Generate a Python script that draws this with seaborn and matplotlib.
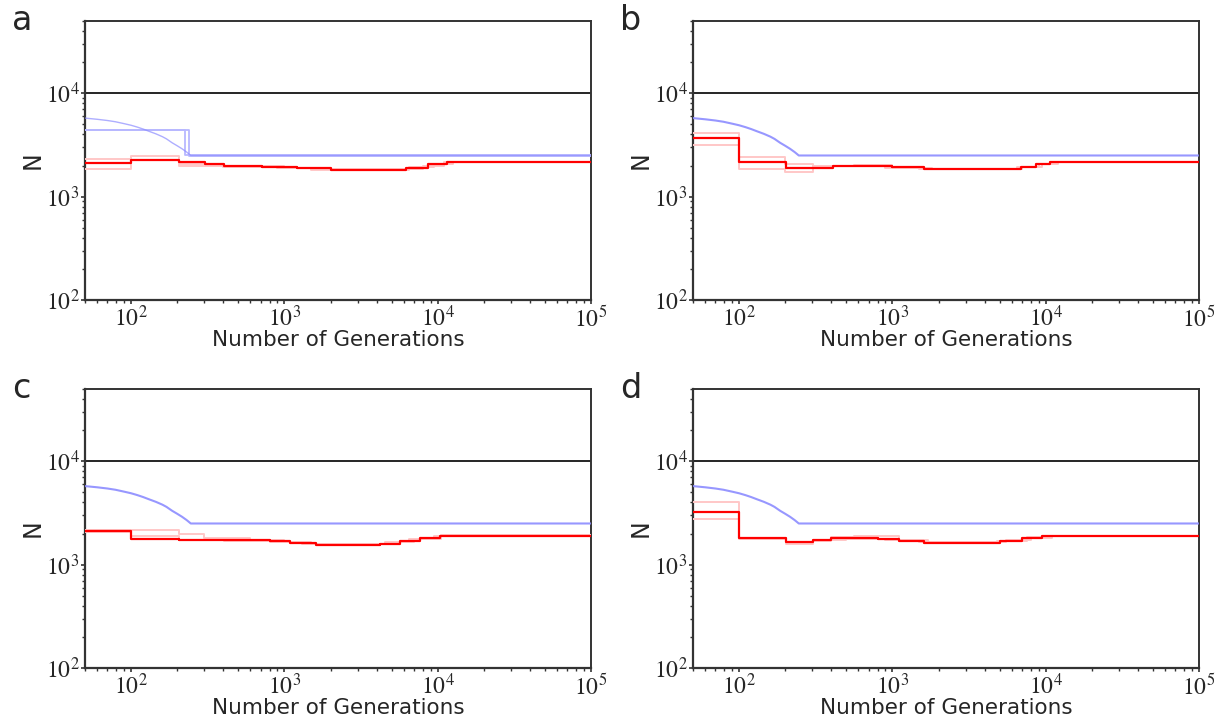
import numpy as np
import pandas as pd
import matplotlib
matplotlib.use("Agg")
import matplotlib.pyplot as plt
import seaborn as sns
from matplotlib.ticker import LogLocator, NullFormatter

# ---------------- data ----------------
panel_labels = ["a", "b", "c", "d"]
x_label = "Number of Generations"
y_label = "N"
ref_N = 10000
x_lim = (50, 1e5)
y_lim = (100, 5e4)

# true (simulated) history - blue curve
true_t = [50, 60, 70, 79, 90, 100, 110, 120, 130, 145, 160, 170, 185, 200, 215, 230, 245, 1e5]
true_N = [5750, 5600, 5450, 5300, 5080, 4900, 4700, 4500, 4300, 4050, 3800, 3620,
          3320, 3100, 2900, 2700, 2500, 2500]

# panel a: blue step estimates
a_blue1_t = [50, 225, 1e5]
a_blue1_N = [4380, 2500, 2500]
a_blue2_t = [50, 240, 1e5]
a_blue2_N = [4380, 2460, 2460]

# red step estimates: thick (main) and faint (replicates)
a_red_t = [50, 100, 204, 305, 405, 714, 1211, 2000, 6170, 8700, 11570, 1e5]
a_red_N = [2100, 2250, 2150, 2060, 1990, 1940, 1880, 1800, 1910, 2050, 2170, 2170]
a_rep1_t = [50, 100, 204, 305, 480, 1000, 1700, 5500, 8000, 11000, 1e5]
a_rep1_N = [2320, 2450, 2080, 2000, 1960, 1900, 1830, 1850, 2000, 2150, 2150]
a_rep2_t = [50, 100, 204, 400, 900, 1500, 6500, 9500, 12500, 1e5]
a_rep2_N = [1860, 2250, 2000, 1950, 1900, 1820, 1930, 2080, 2180, 2180]

b_red_t = [50, 100, 202, 407, 995, 1600, 6900, 8700, 10700, 1e5]
b_red_N = [3660, 2170, 1900, 1990, 1920, 1860, 1930, 2050, 2170, 2170]
b_rep1_t = [50, 100, 200, 301, 560, 1000, 1500, 7000, 9500, 12000, 1e5]
b_rep1_N = [4150, 2400, 2090, 1990, 2020, 1940, 1870, 1950, 2080, 2180, 2180]
b_rep2_t = [50, 100, 200, 301, 450, 900, 1800, 6500, 9000, 11000, 1e5]
b_rep2_N = [3160, 1860, 1750, 1960, 1980, 1900, 1850, 1920, 2060, 2160, 2160]

c_red_t = [50, 100, 204, 405, 809, 1090, 1600, 4200, 5700, 7700, 10400, 1e5]
c_red_N = [2100, 1775, 1750, 1720, 1680, 1620, 1560, 1600, 1700, 1800, 1900, 1900]
c_rep1_t = [50, 100, 204, 300, 600, 1000, 1500, 5000, 7000, 9500, 1e5]
c_rep1_N = [2150, 2160, 1960, 1800, 1720, 1650, 1580, 1660, 1780, 1890, 1890]
c_rep2_t = [50, 100, 204, 405, 800, 1300, 4500, 6500, 10500, 1e5]
c_rep2_N = [2060, 1880, 1720, 1700, 1650, 1590, 1640, 1760, 1920, 1920]

d_red_t = [50, 100, 202, 301, 400, 808, 1100, 1600, 5000, 7000, 9500, 1e5]
d_red_N = [3220, 1790, 1670, 1740, 1800, 1760, 1700, 1630, 1700, 1800, 1900, 1900]
d_rep1_t = [50, 100, 202, 301, 400, 560, 625, 1100, 1700, 5500, 8000, 11000, 1e5]
d_rep1_N = [4060, 1800, 1590, 1700, 1830, 1880, 1900, 1720, 1640, 1720, 1820, 1910, 1910]
d_rep2_t = [50, 100, 202, 301, 500, 900, 1500, 4800, 7500, 10500, 1e5]
d_rep2_N = [2740, 1780, 1640, 1720, 1780, 1720, 1650, 1690, 1830, 1890, 1890]

x_ticks = [1e2, 1e3, 1e4, 1e5]
x_tick_labels = [r"$10^{2}$", r"$10^{3}$", r"$10^{4}$", r"$10^{5}$"]
y_ticks = [1e2, 1e3, 1e4]
y_tick_labels = [r"$10^{2}$", r"$10^{3}$", r"$10^{4}$"]

panels = {
    "a": dict(blue=[(a_blue1_t, a_blue1_N), (a_blue2_t, a_blue2_N)],
              red=(a_red_t, a_red_N), reps=[(a_rep1_t, a_rep1_N), (a_rep2_t, a_rep2_N)]),
    "b": dict(blue=[], red=(b_red_t, b_red_N), reps=[(b_rep1_t, b_rep1_N), (b_rep2_t, b_rep2_N)]),
    "c": dict(blue=[], red=(c_red_t, c_red_N), reps=[(c_rep1_t, c_rep1_N), (c_rep2_t, c_rep2_N)]),
    "d": dict(blue=[], red=(d_red_t, d_red_N), reps=[(d_rep1_t, d_rep1_N), (d_rep2_t, d_rep2_N)]),
}

# ---------------- styling ----------------
sns.set_style("ticks")
plt.rcParams["font.family"] = ["DejaVu Sans"]
plt.rcParams["mathtext.fontset"] = "stix"

W, H = 1225, 717
fig = plt.figure(figsize=(W / 100, H / 100), dpi=100)

boxes = {
    "a": (85, 21, 591, 300),
    "b": (693, 21, 1199, 300),
    "c": (85, 389, 591, 668),
    "d": (693, 389, 1199, 668),
}

BLUE = (0.55, 0.55, 1.0)
BLUE_LIGHT = (0.72, 0.72, 1.0)
RED = (1.0, 0.0, 0.0)
RED_FAINT = (1.0, 0.78, 0.78)


def df_of(t, n):
    return pd.DataFrame({"t": t, "N": n})


for lab in panel_labels:
    l, t, r, b = boxes[lab]
    aw, ah = r - l, b - t
    ax = fig.add_axes([l / W, 1 - b / H, aw / W, ah / H])
    ax.set_xscale("log")
    ax.set_yscale("log")
    p = panels[lab]

    ax.axhline(ref_N, color="black", lw=1.2, zorder=2)

    for (rt, rn) in p["reps"]:
        sns.lineplot(data=df_of(rt, rn), x="t", y="N", ax=ax, color=RED_FAINT,
                     lw=1.4, drawstyle="steps-post", estimator=None, zorder=3)
    for (bt, bn) in p["blue"]:
        sns.lineplot(data=df_of(bt, bn), x="t", y="N", ax=ax, color=BLUE_LIGHT,
                     lw=1.3, drawstyle="steps-post", estimator=None, zorder=3)
    sns.lineplot(data=df_of(true_t, true_N), x="t", y="N", ax=ax, color=BLUE,
                 lw=1.5 if lab != "a" else 1.0, alpha=0.9 if lab != "a" else 0.7,
                 estimator=None, zorder=4)
    rt, rn = p["red"]
    sns.lineplot(data=df_of(rt, rn), x="t", y="N", ax=ax, color=RED,
                 lw=1.6, drawstyle="steps-post", estimator=None, zorder=5)

    ax.set_xlim(*x_lim)
    ax.set_ylim(*y_lim)
    ax.set_xticks(x_ticks)
    ax.set_xticklabels(x_tick_labels, fontsize=17)
    ax.set_yticks(y_ticks)
    ax.set_yticklabels(y_tick_labels, fontsize=17)
    ax.xaxis.set_minor_locator(LogLocator(base=10, subs=np.arange(2, 10)))
    ax.yaxis.set_minor_locator(LogLocator(base=10, subs=np.arange(2, 10)))
    ax.xaxis.set_minor_formatter(NullFormatter())
    ax.yaxis.set_minor_formatter(NullFormatter())
    ax.tick_params(which="major", direction="out", length=3, width=1.2,
                   pad=1, top=False, right=False, color="#333333")
    ax.tick_params(which="minor", direction="out", length=2, width=1.0,
                   top=False, right=False, color="#333333")
    for s in ["left", "bottom"]:
        ax.spines[s].set_linewidth(1.6)
        ax.spines[s].set_color("#333333")
    for s in ["top", "right"]:
        ax.spines[s].set_visible(True)
        ax.spines[s].set_linewidth(1.4)
        ax.spines[s].set_color("#333333")

    ax.set_xlabel(x_label, fontsize=15.5)
    ax.xaxis.set_label_coords(0.5, -30 / ah)
    ax.set_ylabel(y_label, fontsize=17)
    ax.yaxis.set_label_coords(-40 / aw, 0.5)
    ax.yaxis.label.set_rotation(90)

    fig.text((l - 73) / W, 1 - (t - 1) / H, lab, fontsize=24,
             ha="left", va="center")

fig.savefig("out.png", dpi=100)
